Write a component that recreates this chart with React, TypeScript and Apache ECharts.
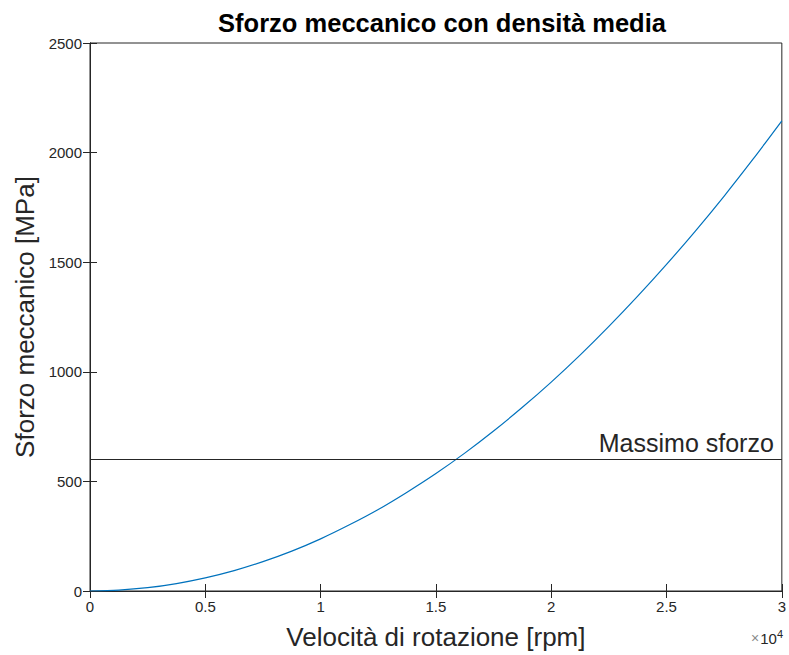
import React, { useEffect, useRef } from "react";
import * as echarts from "echarts";

// Rotation speed [rpm] and the resulting mechanical stress [MPa]
const speedRpm = [
  0, 1250, 2500, 3750, 5000, 6250, 7500, 8750, 10000, 11250, 12500, 13750, 15000,
  16250, 17500, 18750, 20000, 21250, 22500, 23750, 25000, 26250, 27500, 28750, 30000,
];
const stressMPa = [
  0, 4, 15, 34, 60, 93, 134, 182, 238, 302, 372, 451, 536,
  629, 730, 838, 953, 1076, 1207, 1345, 1490, 1642, 1802, 1970, 2145,
];

// Maximum allowed stress [MPa]
const maxStress = 600;
const maxStressLabel = "Massimo sforzo";

const title = "Sforzo meccanico con densità media";
const xName = "Velocità di rotazione [rpm]";
const yName = "Sforzo meccanico [MPa]";

const FONT = "'Liberation Sans', Arial, Helvetica, sans-serif";
const INK = "#262626";

export default function App() {
  const ref = useRef<HTMLDivElement>(null);

  useEffect(() => {
    if (!ref.current) return;
    const chart = echarts.init(ref.current, undefined, { renderer: "svg" });

    const tickStyle = { inside: true, length: 7, lineStyle: { color: INK, width: 1 } };

    chart.setOption({
      animation: false,
      backgroundColor: "#ffffff",
      textStyle: { fontFamily: FONT },
      title: {
        text: title,
        left: 437,
        textAlign: "center",
        top: 5,
        textStyle: { fontFamily: FONT, fontSize: 25.5, fontWeight: "bold", color: "#000" },
      },
      grid: {
        left: 90,
        right: 7,
        top: 43,
        bottom: 63,
        show: true,
        borderColor: INK,
        borderWidth: 1,
      },
      xAxis: [
        {
          type: "value",
          min: 0,
          max: 30000,
          interval: 5000,
          name: xName,
          nameLocation: "middle",
          nameGap: 33,
          nameTextStyle: { fontFamily: FONT, fontSize: 26, color: INK },
          axisLine: { show: true, lineStyle: { color: INK } },
          axisTick: tickStyle,
          axisLabel: {
            margin: 8,
            fontFamily: FONT,
            fontSize: 15,
            color: INK,
            showMinLabel: true,
            showMaxLabel: true,
            formatter: (v: number) => String(v / 10000),
          },
          splitLine: { show: false },
        },
        {
          type: "value",
          position: "top",
          min: 0,
          max: 30000,
          interval: 5000,
          axisLine: { show: true, lineStyle: { color: INK } },
          axisTick: tickStyle,
          axisLabel: { show: false },
          splitLine: { show: false },
        },
      ],
      yAxis: [
        {
          type: "value",
          min: 0,
          max: 2500,
          interval: 500,
          name: yName,
          nameLocation: "middle",
          nameGap: 48,
          nameTextStyle: { fontFamily: FONT, fontSize: 26, color: INK },
          axisLine: { show: true, lineStyle: { color: INK } },
          axisTick: tickStyle,
          axisLabel: {
            margin: 8,
            fontFamily: FONT,
            fontSize: 15,
            color: INK,
            formatter: (v: number) => String(v),
          },
          splitLine: { show: false },
        },
        {
          type: "value",
          position: "right",
          min: 0,
          max: 2500,
          interval: 500,
          axisLine: { show: true, lineStyle: { color: INK } },
          axisTick: tickStyle,
          axisLabel: { show: false },
          splitLine: { show: false },
        },
      ],
      series: [
        {
          type: "line",
          xAxisIndex: 0,
          yAxisIndex: 0,
          data: speedRpm.map((s, i) => [s, stressMPa[i]]),
          smooth: 0.3,
          showSymbol: false,
          lineStyle: { color: "#0072BD", width: 1.2 },
          markLine: {
            silent: true,
            symbol: "none",
            lineStyle: { color: INK, width: 1, type: "solid" },
            label: {
              show: true,
              position: "insideEndTop",
              formatter: maxStressLabel,
              fontFamily: FONT,
              fontSize: 25,
              color: INK,
              distance: [8, 4],
            },
            data: [{ yAxis: maxStress }],
          },
        },
      ],
      graphic: [
        {
          type: "text",
          right: 6,
          top: 628,
          style: {
            text: "{x|×}10{s|4}",
            fontFamily: FONT,
            fontSize: 15,
            fill: INK,
            rich: {
              x: { fontSize: 14, fill: "#8a8a8a", padding: [0, 1, 0, 0] },
              s: { fontSize: 11, verticalAlign: "top", padding: [0, 0, 9, 0] },
            },
          },
        },
      ],
    });

    return () => chart.dispose();
  }, []);

  return (
    <div
      ref={ref}
      style={{ position: "absolute", left: 0, top: 0, width: 789, height: 655 }}
    />
  );
}
